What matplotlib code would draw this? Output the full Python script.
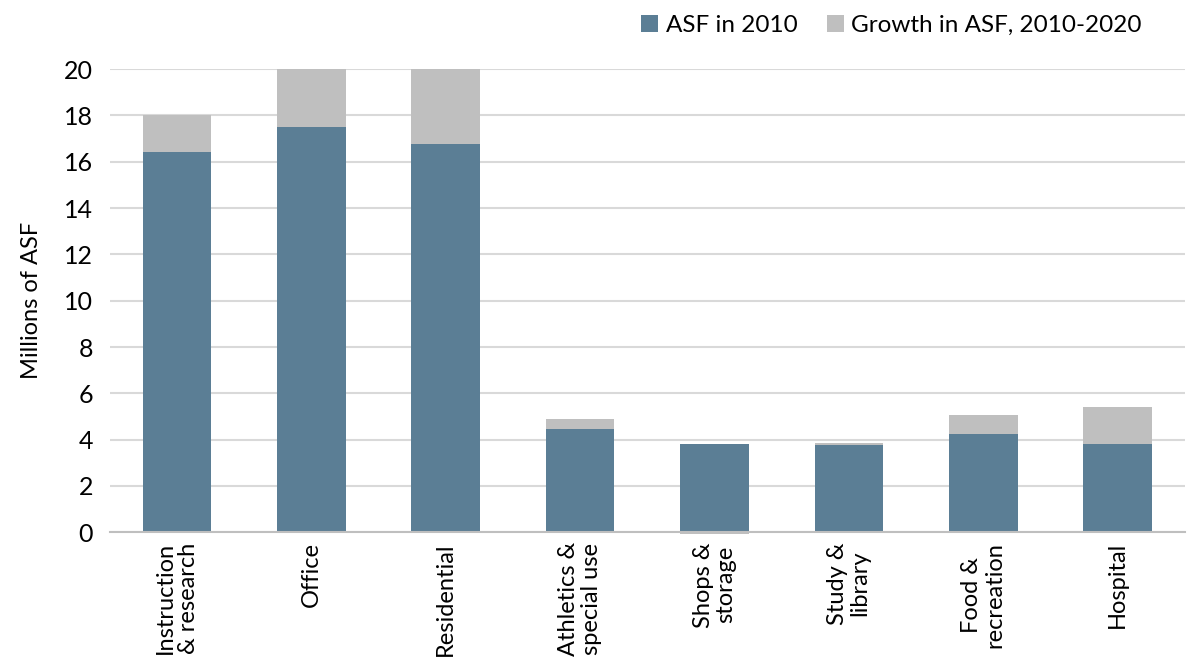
import numpy as np
import matplotlib.pyplot as plt

plt.rcParams['font.family'] = ['Lato', 'DejaVu Sans']

categories = ['Instruction\n& research', 'Office', 'Residential', 'Athletics &\nspecial use',
              'Shops &\nstorage', 'Study &\nlibrary', 'Food &\nrecreation', 'Hospital']
asf_2010 = [16.4, 17.5, 16.75, 4.45, 3.8, 3.75, 4.25, 3.8]
growth = [1.6, 2.5, 3.25, 0.45, -0.07, 0.1, 0.82, 1.63]

blue = '#5b7e95'
grey = '#bfbfbf'

fig = plt.figure(figsize=(11.92, 6.58), dpi=100)
ax = fig.add_axes([0.092, 0.191, 0.902, 0.704])

x = np.arange(len(categories))
ax.bar(x, asf_2010, width=0.51, color=blue, label='ASF in 2010', zorder=3)
bottoms = [a if g >= 0 else 0 for a, g in zip(asf_2010, growth)]
ax.bar(x, growth, width=0.51, bottom=bottoms, color=grey,
       label='Growth in ASF, 2010-2020', zorder=3, clip_on=False)

ax.set_xlim(-0.5, len(categories) - 0.5)
ax.set_ylim(0, 20)
ax.set_yticks(range(0, 21, 2))
ax.set_xticks(x)
ax.set_xticklabels(categories, rotation=90, fontsize=17, ha='center', va='top',
                   multialignment='center', linespacing=1.1)
ax.tick_params(axis='y', labelsize=18, length=0, pad=12)
ax.tick_params(axis='x', length=0, pad=7)
ax.grid(axis='y', color='#d9d9d9', linewidth=1.5, zorder=0)
for s in ['top', 'right', 'left']:
    ax.spines[s].set_visible(False)
ax.spines['bottom'].set_color('#bfbfbf')
ax.spines['bottom'].set_linewidth(1.5)
ax.spines['bottom'].set_zorder(4)
ax.set_ylabel('Millions of ASF', fontsize=17, labelpad=16)

ax.legend(loc='upper right', bbox_to_anchor=(0.98, 1.165), ncol=2, frameon=False,
          fontsize=17.5, handlelength=0.7, handleheight=0.7, handletextpad=0.3,
          columnspacing=1.2)

fig.savefig('out.png', dpi=100)
